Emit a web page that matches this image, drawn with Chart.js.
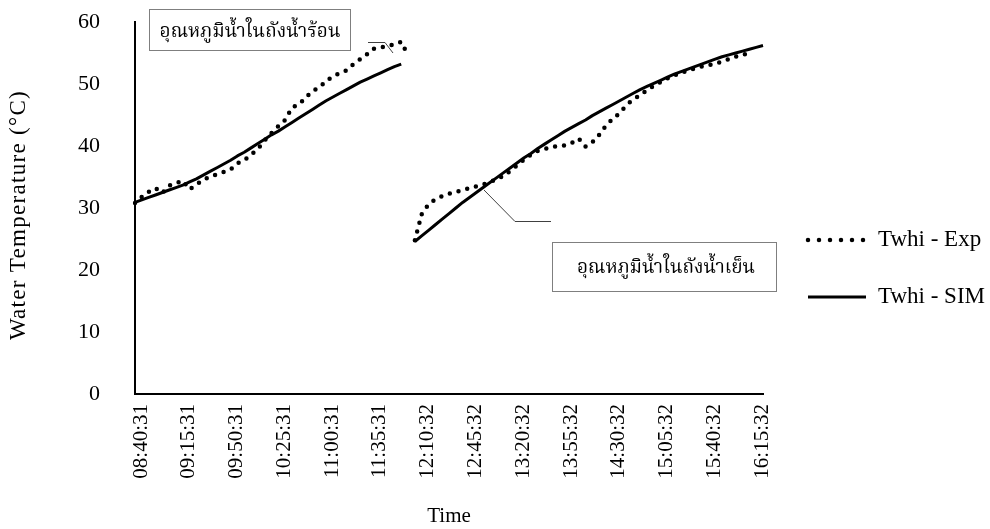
<!DOCTYPE html>
<html>
<head>
<meta charset="utf-8">
<script src="https://cdn.jsdelivr.net/npm/chart.js@4.4.1/dist/chart.umd.min.js"></script>
<style>
  html, body { margin: 0; padding: 0; background: #ffffff; }
  #wrap { width: 990px; height: 529px; }
</style>
</head>
<body>
<div id="wrap"><canvas id="c" width="990" height="529"></canvas></div>
<script>
// ---- categories (5-minute logging times) ----
const times = [
  "08:40:31","08:45:31","08:50:31","08:55:31","09:00:31","09:05:31","09:10:31",
  "09:15:31","09:20:31","09:25:31","09:30:31","09:35:31","09:40:31","09:45:31",
  "09:50:31","09:55:31","10:00:31","10:05:31","10:10:31","10:15:31","10:20:31",
  "10:25:31","10:30:31","10:35:31","10:40:31","10:45:31","10:50:31","10:55:31",
  "11:00:31","11:05:31","11:10:31","11:15:31","11:20:31","11:25:31","11:30:31",
  "11:35:31","11:40:31","11:45:31","11:50:31","11:55:31","12:00:31","12:05:32",
  "12:10:32","12:15:32","12:20:32","12:25:32","12:30:32","12:35:32","12:40:32",
  "12:45:32","12:50:32","12:55:32","13:00:32","13:05:32","13:10:32","13:15:32",
  "13:20:32","13:25:32","13:30:32","13:35:32","13:40:32","13:45:32","13:50:32",
  "13:55:32","14:00:32","14:05:32","14:10:32","14:15:32","14:20:32","14:25:32",
  "14:30:32","14:35:32","14:40:32","14:45:32","14:50:32","14:55:32","15:00:32",
  "15:05:32","15:10:32","15:15:32","15:20:32","15:25:32","15:30:32","15:35:32",
  "15:40:32","15:45:32","15:50:32","15:55:32","16:00:32","16:05:32","16:10:32",
  "16:15:32","16:20:32"
];
const labelEvery = 7;
const yTickValues = [0, 10, 20, 30, 40, 50, 60];

// ---- hot-water tank (starts at 08:40:31) ----
const hotStart = 0;
const expHot = [30.8, 31.8, 32.6, 33.2, 32.4, 33.6, 34.0, 34.4, 33.0, 33.8,
                34.5, 35.1, 35.4, 35.8, 36.2, 37.2, 37.7, 38.6, 39.5, 40.9,
                42.1, 43.2, 44.2, 46.2, 46.7, 47.8, 48.9, 49.4, 50.5, 51.2,
                51.8, 52.2, 53.2, 54.0, 54.8, 55.7, 55.9, 56.1, 56.4, 56.8,
                54.6];
const simHot = [30.9, 31.3, 31.7, 32.1, 32.5, 32.9, 33.3, 33.7, 34.2, 34.7,
                35.3, 35.9, 36.5, 37.1, 37.7, 38.4, 39.0, 39.7, 40.4, 41.1,
                41.8, 42.4, 43.1, 43.8, 44.5, 45.2, 45.9, 46.6, 47.3, 47.9,
                48.5, 49.1, 49.7, 50.3, 50.8, 51.3, 51.8, 52.3, 52.8, 53.2];

// ---- cold-water tank (starts at 12:05:32) ----
const coldStart = 41;
const expCold = [24.8, 29.0, 30.6, 31.4, 31.9, 32.3, 32.6, 32.9, 33.2, 33.5,
                 33.8, 34.2, 34.6, 35.2, 36.0, 36.9, 37.8, 38.6, 39.2, 39.5,
                 39.8, 40.0, 40.1, 40.5, 41.2, 39.9, 40.6, 41.8, 43.3, 44.4,
                 45.3, 46.6, 47.5, 48.2, 49.0, 49.7, 50.3, 50.9, 51.4, 51.8,
                 52.2, 52.5, 52.8, 53.0, 53.3, 53.6, 54.0, 54.4, 54.7, 55.0];
const simCold = [24.6, 25.5, 26.4, 27.3, 28.2, 29.1, 30.0, 30.9, 31.7, 32.5,
                 33.3, 34.1, 34.9, 35.7, 36.5, 37.3, 38.1, 38.8, 39.6, 40.3,
                 41.0, 41.7, 42.4, 43.0, 43.6, 44.2, 44.9, 45.5, 46.1, 46.7,
                 47.3, 47.9, 48.5, 49.1, 49.6, 50.1, 50.6, 51.1, 51.6, 52.0,
                 52.4, 52.8, 53.2, 53.6, 54.0, 54.4, 54.7, 55.0, 55.3, 55.6,
                 55.9, 56.2];

const seriesNames = ["Twhi - Exp", "Twhi - SIM"];
const yTitle = "Water Temperature (°C)";
const xTitle = "Time";
const noteHot = "อุณหภูมิน้ำในถังน้ำร้อน";
const noteCold = "อุณหภูมิน้ำในถังน้ำเย็น";

const SERIF = '"Liberation Serif", "Times New Roman", "DejaVu Serif", serif';
const THAI = '"Liberation Serif", "Noto Serif Thai", "Noto Sans Thai", "Norasi", "Garuda", "Loma", "Tlwg Typo", serif';

function pts(values, start) {
  return values.map((v, k) => ({ x: times[start + k], y: v }));
}

const expStyle = { borderColor: "#000", borderWidth: 4.5, borderDash: [0, 9], borderCapStyle: "round" };
const simStyle = { borderColor: "#000", borderWidth: 3, borderDash: [], borderCapStyle: "butt" };

const datasets = [
  Object.assign({ label: seriesNames[0], data: pts(expHot, hotStart) }, expStyle),
  Object.assign({ label: seriesNames[1], data: pts(simHot, hotStart) }, simStyle),
  Object.assign({ label: seriesNames[0], data: pts(expCold, coldStart) }, expStyle),
  Object.assign({ label: seriesNames[1], data: pts(simCold, coldStart) }, simStyle)
];
datasets.forEach(d => { d.pointRadius = 0; d.tension = 0; d.fill = false; d.spanGaps = false; d.borderJoinStyle = "round"; });

const extras = {
  id: "extras",
  afterDraw(chart) {
    const ctx = chart.ctx;
    const area = chart.chartArea;
    ctx.save();
    // --- y axis title ---
    ctx.save();
    ctx.translate(19, 215);
    ctx.rotate(-Math.PI / 2);
    ctx.fillStyle = "#000";
    ctx.font = "23px " + SERIF;
    ctx.letterSpacing = "1.3px";
    ctx.textAlign = "center";
    ctx.textBaseline = "middle";
    ctx.fillText(yTitle, 0, 0);
    ctx.restore();

    // --- legend ---
    const items = [
      { name: seriesNames[0], style: expStyle, y: 240, dash: [0, 11] },
      { name: seriesNames[1], style: simStyle, y: 297, dash: [] }
    ];
    items.forEach(it => {
      ctx.beginPath();
      ctx.strokeStyle = it.style.borderColor;
      ctx.lineWidth = it.style.borderWidth;
      ctx.lineCap = it.style.borderCapStyle;
      ctx.setLineDash(it.dash);
      ctx.moveTo(808, it.y);
      ctx.lineTo(866, it.y);
      ctx.stroke();
      ctx.setLineDash([]);
      ctx.fillStyle = "#000";
      ctx.font = "23px " + SERIF;
      ctx.textAlign = "left";
      ctx.textBaseline = "middle";
      ctx.fillText(it.name, 878, it.y);
    });

    // --- note boxes ---
    ctx.lineCap = "butt";
    ctx.lineWidth = 1;
    ctx.strokeStyle = "#7f7f7f";
    ctx.fillStyle = "#fff";
    const boxes = [
      { x: 149.5, y: 9.5, w: 201, h: 41, text: noteHot, cx: 250, cy: 32 },
      { x: 552.5, y: 242.5, w: 224, h: 49, text: noteCold, cx: 666, cy: 268 }
    ];
    boxes.forEach(b => {
      ctx.fillRect(b.x, b.y, b.w, b.h);
      ctx.strokeRect(b.x, b.y, b.w, b.h);
    });
    ctx.fillStyle = "#000";
    ctx.font = "19px " + THAI;
    ctx.textAlign = "center";
    ctx.textBaseline = "middle";
    boxes.forEach(b => ctx.fillText(b.text, b.cx, b.cy));

    // --- leader lines ---
    ctx.strokeStyle = "#404040";
    ctx.beginPath();
    ctx.moveTo(368, 42.5); ctx.lineTo(385, 42.5); ctx.lineTo(393, 53);
    ctx.moveTo(484, 190); ctx.lineTo(515, 221.5); ctx.lineTo(551, 221.5);
    ctx.stroke();
    ctx.restore();
  }
};

new Chart(document.getElementById("c"), {
  type: "line",
  data: { labels: times, datasets: datasets },
  options: {
    responsive: false,
    animation: false,
    devicePixelRatio: 1,
    layout: { padding: { top: 22, right: 227, left: 0, bottom: 0 } },
    plugins: { legend: { display: false }, tooltip: { enabled: false } },
    scales: {
      x: {
        type: "category",
        offset: false,
        grid: { display: false, drawTicks: false },
        border: { display: true, color: "#000", width: 2 },
        ticks: {
          autoSkip: false, maxRotation: 90, minRotation: 90, padding: 10, labelOffset: 6,
          color: "#000", font: { family: SERIF, size: 21 },
          callback: (v, i) => (i % labelEvery === 0 ? times[i] : "")
        },
        title: { display: true, text: xTitle, color: "#000", font: { family: SERIF, size: 21 }, padding: { top: 0, bottom: 0 } },
        afterFit: s => { s.height = 135; }
      },
      y: {
        min: 0, max: 60,
        grid: { display: false, drawTicks: true, tickLength: 33 },
        border: { display: true, color: "#000", width: 2 },
        afterBuildTicks: s => { s.ticks = yTickValues.map(v => ({ value: v })); },
        ticks: { padding: 2, color: "#000", font: { family: SERIF, size: 22 } },
        title: { display: false },
        afterFit: s => { s.width = 135; }
      }
    }
  },
  plugins: [extras]
});
</script>
</body>
</html>
